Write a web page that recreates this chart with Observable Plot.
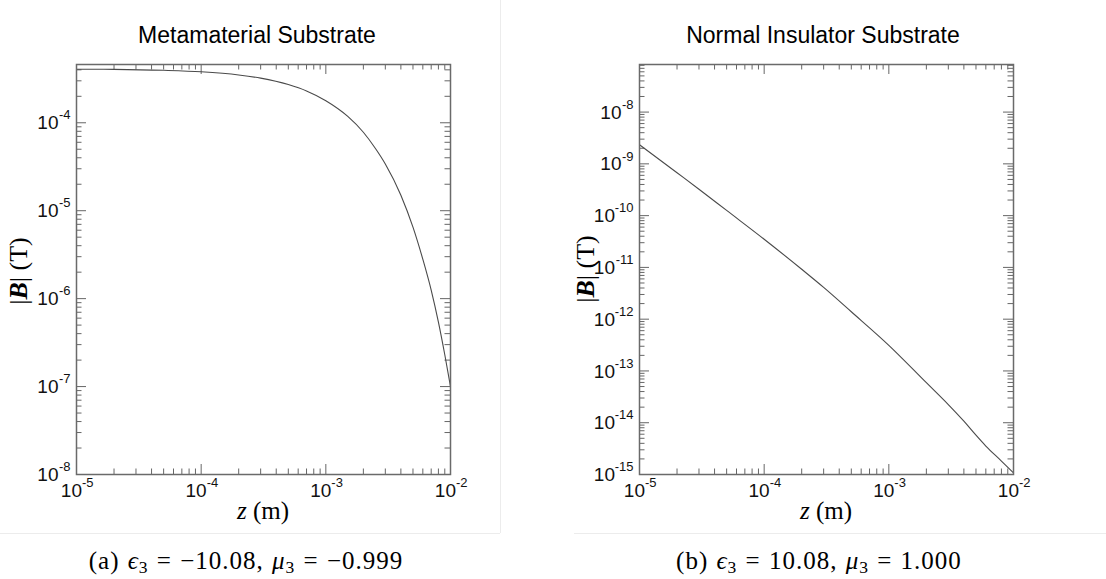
<!DOCTYPE html>
<html><head><meta charset="utf-8">
<script src="https://cdn.jsdelivr.net/npm/d3@7"></script>
<script src="https://cdn.jsdelivr.net/npm/@observablehq/plot@0.6"></script>
<style>
html,body{margin:0;padding:0;background:#fff;}
#root{position:relative;width:1106px;height:579px;overflow:hidden;background:#fff;}
.abs{position:absolute;white-space:nowrap;transform:translate(-50%,-50%);color:#000;}
.rot{transform:translate(-50%,-50%) rotate(-90deg);}
.sans{font-family:"Liberation Sans",Arial,Helvetica,sans-serif;}
.serif{font-family:"Liberation Serif","Times New Roman",serif;}
.cap{letter-spacing:1px;word-spacing:1px;}
.sub{font-size:70%;position:relative;top:0.28em;}
.line{position:absolute;background:#ececec;}
svg{position:absolute;top:0;}
</style></head><body><div id="root"></div>
<script>
// ---- data ----
const xTickExp = ["-5", "-4", "-3", "-2"];
const leftYExp = ["-8", "-7", "-6", "-5", "-4"];
const rightYExp = ["-15", "-14", "-13", "-12", "-11", "-10", "-9", "-8"];

const leftZ = [1e-5, 2e-5, 5e-5, 1e-4, 2e-4, 3e-4, 5e-4, 7e-4, 1e-3, 1.5e-3, 2e-3, 2.5e-3, 3e-3, 4e-3, 5e-3, 6e-3, 7e-3, 8e-3, 9e-3, 1e-2];
const leftB = [4.07e-4, 4.05e-4, 3.95e-4, 3.80e-4, 3.50e-4, 3.22e-4, 2.72e-4, 2.30e-4, 1.78e-4, 1.18e-4, 7.8e-5, 5.1e-5, 3.4e-5, 1.5e-5, 6.5e-6, 2.8e-6, 1.25e-6, 5.4e-7, 2.3e-7, 1.0e-7];

const rightZ = [1e-5, 2e-5, 3e-5, 5e-5, 1e-4, 2e-4, 3e-4, 5e-4, 1e-3, 2e-3, 3e-3, 4e-3, 5e-3, 6e-3, 8e-3, 1e-2];
const rightB = [2.34e-9, 6.73e-10, 3.24e-10, 1.26e-10, 3.5e-11, 9.2e-12, 4.1e-12, 1.39e-12, 3.13e-13, 5.93e-14, 2.24e-14, 1.07e-14, 5.75e-15, 3.55e-15, 1.82e-15, 1.07e-15];

const xDomain = [1e-5, 1e-2];
const leftYDomain = [1e-8, 4.6e-4];
const rightYDomain = [1e-15, 8.3e-8];

const titles = ["Metamaterial Substrate", "Normal Insulator Substrate"];

// ---- helpers ----
const minorMult = [2, 3, 4, 5, 6, 7, 8, 9];
function ticks(domain, exps) {
  const majors = exps.map(e => Math.pow(10, +e));
  const minors = [];
  const k0 = Math.floor(Math.log10(domain[0])), k1 = Math.floor(Math.log10(domain[1]));
  for (let k = k0; k <= k1; k++) for (const m of minorMult) {
    const v = m * Math.pow(10, k);
    if (v > domain[0] && v < domain[1]) minors.push(v);
  }
  return {majors, minors};
}

const innerW = 374, innerH = 410;
const tickCol = "#666";

function panel({left, width, marginLeft, yDomain, yExp, zs, bs}) {
  const xt = ticks(xDomain, xTickExp);
  const yt = ticks(yDomain, yExp);
  const data = zs.map((z, i) => ({z, b: bs[i]}));
  const single = yExp.map((e) => ({v: Math.pow(10, +e), e})).filter(d => d.e.length <= 2);
  const dbl = yExp.map((e) => ({v: Math.pow(10, +e), e})).filter(d => d.e.length > 2);
  const yLabelMarks = (arr, dx10) => [
    Plot.text(arr, {y: "v", frameAnchor: "left", text: () => "10", textAnchor: "end", dx: dx10, dy: 0.5, fontSize: 19, lineAnchor: "middle", fill: "#111"}),
    Plot.text(arr, {y: "v", frameAnchor: "left", text: "e", textAnchor: "end", dx: -6, dy: -7.5, fontSize: 13, lineAnchor: "middle", fill: "#111"})
  ];
  const svg = Plot.plot({
    width, height: 530,
    marginLeft, marginRight: width - marginLeft - innerW,
    marginTop: 64, marginBottom: 530 - 64 - innerH,
    style: {fontFamily: '"Liberation Sans", Arial, sans-serif', background: "transparent", overflow: "visible"},
    x: {type: "log", domain: xDomain, axis: null},
    y: {type: "log", domain: yDomain, axis: null},
    marks: [
      // x ticks bottom & top
      Plot.ruleX(xt.majors, {x: d => d, insetTop: innerH - 10, stroke: tickCol, strokeWidth: 1}),
      Plot.ruleX(xt.minors, {x: d => d, insetTop: innerH - 5.5, stroke: tickCol, strokeWidth: 1}),
      Plot.ruleX(xt.majors, {x: d => d, insetBottom: innerH - 10, stroke: tickCol, strokeWidth: 1}),
      Plot.ruleX(xt.minors, {x: d => d, insetBottom: innerH - 5.5, stroke: tickCol, strokeWidth: 1}),
      // y ticks left & right
      Plot.ruleY(yt.majors, {y: d => d, insetRight: innerW - 10, stroke: tickCol, strokeWidth: 1}),
      Plot.ruleY(yt.minors, {y: d => d, insetRight: innerW - 5.5, stroke: tickCol, strokeWidth: 1}),
      Plot.ruleY(yt.majors, {y: d => d, insetLeft: innerW - 10, stroke: tickCol, strokeWidth: 1}),
      Plot.ruleY(yt.minors, {y: d => d, insetLeft: innerW - 5.5, stroke: tickCol, strokeWidth: 1}),
      Plot.line(data, {x: "z", y: "b", stroke: "#4a4a4a", strokeWidth: 1.1, curve: "monotone-x"}),
      Plot.frame({stroke: "#6a6a6a", strokeWidth: 1.5}),
      // x tick labels
      Plot.text(xt.majors, {x: d => d, frameAnchor: "bottom", text: () => "10", textAnchor: "end", dx: 5.5, dy: 16, fontSize: 19, lineAnchor: "middle", fill: "#111"}),
      Plot.text(xt.majors, {x: d => d, frameAnchor: "bottom", text: (d, i) => xTickExp[i], textAnchor: "start", dx: 5.5, dy: 8.5, fontSize: 13, lineAnchor: "middle", fill: "#111"}),
      ...yLabelMarks(single, -18),
      ...yLabelMarks(dbl, -24.5)
    ]
  });
  svg.style.left = left + "px";
  return svg;
}

const root = document.getElementById("root");
root.appendChild(panel({left: 0, width: 500, marginLeft: 76, yDomain: leftYDomain, yExp: leftYExp, zs: leftZ, bs: leftB}));
root.appendChild(panel({left: 546, width: 560, marginLeft: 93, yDomain: rightYDomain, yExp: rightYExp, zs: rightZ, bs: rightB}));

function addText(html, x, y, cls, size) {
  const d = document.createElement("div");
  d.className = "abs " + cls;
  d.style.left = x + "px"; d.style.top = y + "px"; d.style.fontSize = size + "px";
  d.innerHTML = html;
  root.appendChild(d);
}
function addLine(x, y, w, h) {
  const d = document.createElement("div");
  d.className = "line";
  Object.assign(d.style, {left: x + "px", top: y + "px", width: w + "px", height: h + "px"});
  root.appendChild(d);
}
addLine(500, 0, 1, 533);
addLine(0, 533, 500, 1);
addLine(574, 533, 532, 1);

addText(titles[0], 257, 34.5, "sans", 23);
addText(titles[1], 823, 34.5, "sans", 23);
const yLab = '|<b><i>B</i></b>| (T)';
addText(yLab, 19, 271, "serif rot", 26);
addText(yLab, 586, 269, "serif rot", 26);
const xLab = '<i>z</i> (m)';
addText(xLab, 263, 511, "serif", 25);
addText(xLab, 826, 511, "serif", 25);
addText('(a) <i>ϵ</i><span class="sub">3</span> = −10.08, <i>μ</i><span class="sub">3</span> = −0.999', 246, 560.5, "serif cap", 25);
addText('(b) <i>ϵ</i><span class="sub">3</span> = 10.08, <i>μ</i><span class="sub">3</span> = 1.000', 819, 560.5, "serif cap", 25);
</script></body></html>
